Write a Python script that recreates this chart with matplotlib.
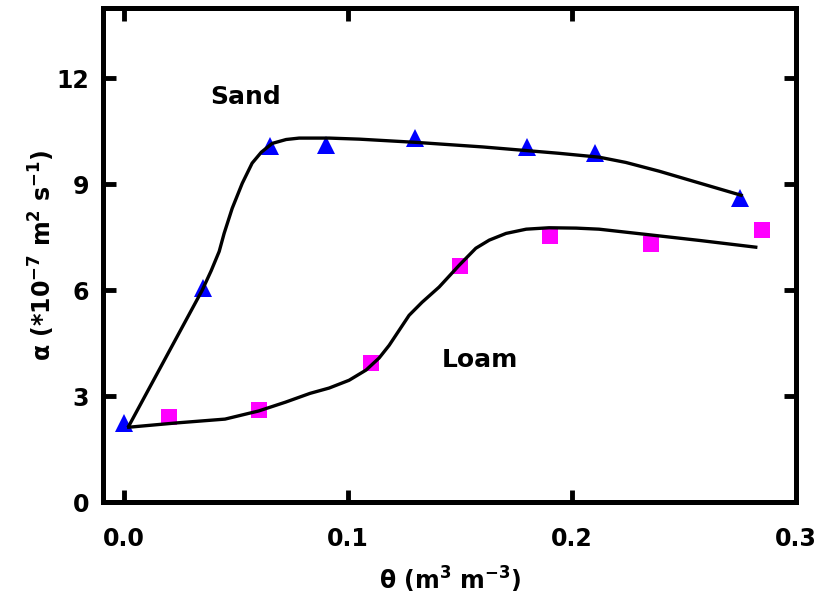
import numpy as np
import matplotlib
matplotlib.use('Agg')
import matplotlib.pyplot as plt

font = {'family': 'DejaVu Sans', 'size': 17, 'weight': 'bold'}
matplotlib.rc('font', **font)
matplotlib.rcParams['axes.labelweight'] = 'bold'
matplotlib.rcParams['mathtext.fontset'] = 'custom'
matplotlib.rcParams['mathtext.rm'] = 'DejaVu Sans:bold'
matplotlib.rcParams['mathtext.bf'] = 'DejaVu Sans:bold'
matplotlib.rcParams['mathtext.default'] = 'bf'

# measured points
sand_theta = [0.0, 0.035, 0.065, 0.09, 0.13, 0.18, 0.21, 0.275]
sand_alpha = [2.25, 6.05, 10.1, 10.12, 10.32, 10.07, 9.9, 8.6]
loam_theta = [0.02, 0.06, 0.11, 0.15, 0.19, 0.235, 0.285]
loam_alpha = [2.4, 2.6, 3.93, 6.7, 7.53, 7.3, 7.72]

# fitted curves
sand_fit_theta = [0.002, 0.0348, 0.0388, 0.0424, 0.0446, 0.0482, 0.0527, 0.0571,
                  0.0612, 0.0661, 0.0723, 0.0781, 0.0915, 0.105, 0.130, 0.160,
                  0.194, 0.212, 0.224, 0.239, 0.254, 0.2755]
sand_fit_alpha = [2.15, 6.0, 6.55, 7.1, 7.61, 8.32, 9.03, 9.60,
                  9.91, 10.16, 10.27, 10.31, 10.31, 10.28, 10.19, 10.06,
                  9.88, 9.77, 9.62, 9.37, 9.09, 8.69]
loam_fit_theta = [0.002, 0.023, 0.045, 0.06, 0.072, 0.083, 0.0915, 0.1004,
                  0.108, 0.1138, 0.1183, 0.1228, 0.1272, 0.133, 0.1406, 0.1496,
                  0.157, 0.163, 0.1705, 0.1795, 0.1897, 0.2018, 0.212, 0.236,
                  0.257, 0.282]
loam_fit_alpha = [2.12, 2.24, 2.35, 2.58, 2.83, 3.08, 3.23, 3.45,
                  3.74, 4.08, 4.44, 4.87, 5.29, 5.66, 6.09, 6.71,
                  7.19, 7.42, 7.61, 7.73, 7.77, 7.76, 7.73, 7.56,
                  7.41, 7.22]

fig = plt.figure(figsize=(8.19, 6.02), dpi=100)
ax = fig.add_axes([0.126, 0.166, 0.846, 0.821])

ax.plot(sand_theta, sand_alpha, '^', color='#0000ff', ms=13, mew=0)
ax.plot(loam_theta, loam_alpha, 's', color='#ff00ff', ms=12, mew=0)
ax.plot(sand_fit_theta, sand_fit_alpha, 'k-', lw=2.4, solid_joinstyle='round')
ax.plot(loam_fit_theta, loam_fit_alpha, 'k-', lw=2.4, solid_joinstyle='round')

ax.text(0.054, 11.46, 'Sand', ha='center', va='center', fontsize=18)
ax.text(0.159, 4.02, 'Loam', ha='center', va='center', fontsize=18)

ax.set_xlim(-0.0094, 0.3)
ax.set_ylim(0, 14)
ax.set_xticks([0.0, 0.1, 0.2, 0.3])
ax.set_xticklabels(['0.0', '0.1', '0.2', '0.3'])
ax.set_yticks([0, 3, 6, 9, 12])
ax.tick_params(direction='in', length=9, width=3.5, top=True, right=True, pad=10)
ax.tick_params(axis='x', pad=18)
for s in ax.spines.values():
    s.set_linewidth(3.6)

ax.set_xlabel(r'θ (m$^{3}$ m$^{-3}$)', labelpad=10, fontweight='bold')
ax.set_ylabel(r'α (*10$^{-7}$ m$^{2}$ s$^{-1}$)', labelpad=0, fontweight='bold')

fig.savefig('out.png', dpi=100)
